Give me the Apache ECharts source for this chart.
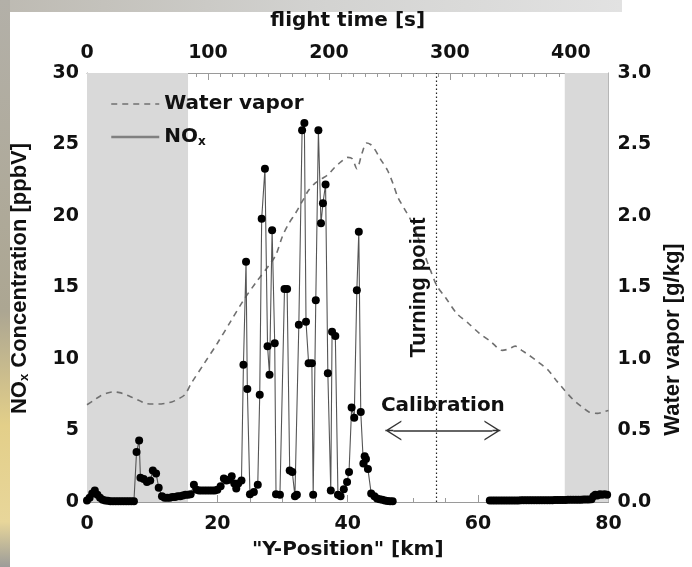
<!DOCTYPE html>
<html><head><meta charset="utf-8">
<script src="https://cdn.jsdelivr.net/npm/echarts@6/dist/echarts.min.js"></script>
<style>html,body{margin:0;padding:0;background:#fff}#c{width:692px;height:567px}</style>
</head><body><div id="c"></div>
<script>
// ---- data ----
const noxKmOut = [0.0,0.4,0.8,1.2,1.6,2.0,2.4,2.8,3.2,3.6,4.0,4.4,4.8,5.2,5.6,6.0,6.4,6.8,7.2,7.6,8.0,8.2,8.7,9.2,9.7,10.1,10.6,11.0,11.5,11.9,12.3,12.7,13.1,13.5,13.9,14.3,14.7,15.1,15.5,15.9,16.4,16.8,17.2,17.6,18.0,18.4,18.8,19.2,19.6,20.0,20.5,21.0,21.4,21.8,22.2,22.6,22.9,23.2,23.7,24.0,24.4,24.6,25.0,25.6,26.2,26.5,26.8,27.3,27.7,28.0,28.4,28.8,29.0,29.6,30.3,30.7,31.1,31.5,31.9,32.2,32.5,33.0,33.35,33.6,34.0,34.5,34.7,35.1,35.5,35.9,36.2,36.6,36.95,37.4,37.6,38.1,38.5,38.9,39.4,39.9,40.2,40.6,41.0,41.4,41.7,42.0,42.4,42.6,42.8,43.1,43.6,44.1,44.5,44.9,45.3,45.7,46.1,46.5,46.9];
const noxValOut = [0.1,0.3,0.6,0.8,0.5,0.3,0.15,0.1,0.08,0.06,0.05,0.05,0.05,0.05,0.05,0.05,0.05,0.05,0.05,3.5,4.3,1.7,1.6,1.4,1.5,2.2,2.0,1.0,0.4,0.3,0.3,0.3,0.35,0.35,0.4,0.4,0.45,0.5,0.5,0.55,1.2,0.85,0.8,0.8,0.8,0.8,0.8,0.8,0.8,0.85,1.1,1.65,1.5,1.55,1.8,1.3,0.95,1.3,1.5,9.6,16.8,7.9,0.55,0.7,1.2,7.5,19.8,23.3,10.9,8.9,19.0,11.1,0.55,0.5,14.9,14.9,2.2,2.1,0.4,0.5,12.4,26.0,26.5,12.6,9.7,9.7,0.5,14.1,26.0,19.5,20.9,22.2,9.0,0.8,11.9,11.6,0.5,0.4,0.9,1.4,2.1,6.6,5.9,14.8,18.9,6.3,2.7,3.2,3.0,2.3,0.6,0.4,0.25,0.2,0.15,0.1,0.07,0.05,0.05];
const noxKmBack = [61.8,62.2,62.6,63.0,63.4,63.8,64.2,64.6,65.0,65.4,65.8,66.2,66.6,67.0,67.4,67.8,68.2,68.6,69.0,69.4,69.8,70.2,70.6,71.0,71.4,71.8,72.2,72.6,73.0,73.4,73.8,74.2,74.6,75.0,75.4,75.8,76.2,76.6,77.0,77.4,77.7,78.0,78.3,78.7,79.0,79.4,79.8];
const noxValBack = [0.1,0.1,0.1,0.1,0.1,0.1,0.1,0.11,0.11,0.11,0.11,0.11,0.12,0.12,0.12,0.12,0.12,0.12,0.12,0.13,0.13,0.13,0.13,0.13,0.13,0.14,0.14,0.14,0.14,0.14,0.15,0.15,0.15,0.15,0.16,0.16,0.17,0.17,0.18,0.2,0.4,0.5,0.45,0.55,0.5,0.55,0.5];
const wvKm  = [0,1,2,3,4,5,6,7,8,9,10,11,12,13,14,15,16,18,20,22,24,26,28,29,30,31,32,33,34,35,36,37,38,39,40,40.7,41.4,42.2,42.9,43.5,44.1,45,46.1,47,47.7,48.7,49.7,50.7,51.7,52.7,53.7,55,56.7,58.5,60.2,62,63.7,64.7,65.7,66.7,67.7,69.2,70.8,72,73.3,74.5,75.8,77,78.3,79.2,80];
const wvVal = [0.68,0.71,0.74,0.76,0.77,0.765,0.75,0.73,0.71,0.69,0.685,0.685,0.69,0.70,0.72,0.75,0.83,0.97,1.11,1.26,1.41,1.54,1.66,1.73,1.86,1.95,2.02,2.10,2.18,2.23,2.26,2.29,2.34,2.38,2.41,2.40,2.33,2.44,2.51,2.50,2.47,2.40,2.32,2.22,2.13,2.05,1.97,1.86,1.74,1.62,1.51,1.43,1.32,1.25,1.18,1.12,1.06,1.07,1.09,1.06,1.03,0.98,0.92,0.85,0.78,0.72,0.67,0.63,0.62,0.63,0.64];
const shadedKm = [[0, 15.5], [73.3, 80]];
const turningKm = 53.6;
const calibKm = [47, 62.2];
const calibLevel = 5;

// ---- chart ----
const H = 'DejaVu Sans';
const V = 'Liberation Sans';
const noxData = noxKmOut.map((k,i)=>[k,noxValOut[i]])
  .concat([[54,'-']])
  .concat(noxKmBack.map((k,i)=>[k,noxValBack[i]]));
const wvData = wvKm.map((k,i)=>[k,wvVal[i]]);
const axisGray = '#9a9a9a';
const tickLab = {color:'#111', fontSize:19, fontWeight:'bold', fontFamily:H};
const chevron = 'path://M0,16L10,0L20,16L18.4,16L10,2.6L1.6,16Z M9.3,0L10.7,0L10.7,8L9.3,8Z';

const chart = echarts.init(document.getElementById('c'), null, {renderer:'canvas'});
chart.setOption({
  animation:false,
  backgroundColor:'#fff',
  textStyle:{fontFamily:H},
  graphic:[
    {type:'rect', z:-10, shape:{x:0,y:0,width:622,height:12},
     style:{fill:new echarts.graphic.LinearGradient(0,0,1,0,[{offset:0,color:'#bdbab2'},{offset:0.5,color:'#d2d2d0'},{offset:1,color:'#e2e2e2'}])}},
    {type:'rect', z:-10, shape:{x:0,y:0,width:10,height:567},
     style:{fill:new echarts.graphic.LinearGradient(0,0,0,1,[{offset:0,color:'#b3b0a8'},{offset:0.55,color:'#aca692'},{offset:0.75,color:'#e3cf89'},{offset:0.92,color:'#e8d69a'},{offset:1,color:'#9c9c99'}])}}
  ],
  grid:{left:87, right:74, top:73, bottom:65, show:false},
  legend:{
    orient:'vertical', left:105, top:89, itemWidth:48, itemHeight:14, itemGap:13,
    itemStyle:{opacity:0},
    data:[
      {name:'Water vapor', lineStyle:{color:'#707070', width:1.6, type:[6,5]}},
      {name:'NOx', lineStyle:{color:'#808080', width:2.5, type:'solid'}}
    ],
    formatter: n => n==='NOx' ? '{n|NO}{s|x}' : '{n|'+n+'}',
    textStyle:{fontFamily:H, fontWeight:'bold', fontSize:20, color:'#111',
      rich:{n:{fontFamily:H, fontWeight:'bold', fontSize:20, color:'#111'},
            s:{fontFamily:H, fontWeight:'bold', fontSize:12, color:'#111', verticalAlign:'bottom', padding:[10,0,0,0]}}}
  },
  xAxis:[
    {type:'value', position:'bottom', min:0, max:80, interval:20,
     axisLine:{show:true, onZero:false, lineStyle:{color:axisGray, width:1}},
     axisTick:{inside:true, length:7, lineStyle:{color:axisGray}},
     minorTick:{show:true, splitNumber:4, length:4, lineStyle:{color:axisGray}},
     splitLine:{show:false},
     axisLabel:Object.assign({margin:13}, tickLab),
     name:'"Y-Position" [km]', nameLocation:'middle', nameGap:38,
     nameTextStyle:{fontFamily:H, fontWeight:'bold', fontSize:20, color:'#111'}},
    {type:'value', position:'top', min:0, max:431, interval:100,
     axisLine:{show:true, onZero:false, lineStyle:{color:axisGray, width:1}},
     axisTick:{inside:true, length:7, lineStyle:{color:axisGray}},
     minorTick:{show:true, splitNumber:10, length:4, lineStyle:{color:axisGray}},
     splitLine:{show:false},
     axisLabel:Object.assign({margin:10, showMaxLabel:false}, tickLab),
     name:'flight time [s]', nameLocation:'middle', nameGap:42,
     nameTextStyle:{fontFamily:H, fontWeight:'bold', fontSize:20, color:'#111'}}
  ],
  yAxis:[
    {type:'value', position:'left', min:0, max:30, interval:5,
     axisLine:{show:true, onZero:false, lineStyle:{color:axisGray, width:1}},
     axisTick:{inside:true, length:7, lineStyle:{color:axisGray}},
     minorTick:{show:true, splitNumber:5, length:4, lineStyle:{color:axisGray}},
     splitLine:{show:false},
     axisLabel:Object.assign({margin:8}, tickLab),
     name:'{n|NO}{s|x}{n| Concentration [ppbV]}', nameLocation:'middle', nameGap:56, nameRotate:90,
     nameTextStyle:{padding:[0,0,0,18], rich:{
       n:{fontFamily:V, fontWeight:'bold', fontSize:22, color:'#111'},
       s:{fontFamily:V, fontWeight:'bold', fontSize:13, color:'#111', verticalAlign:'bottom', padding:[10,0,0,0]}}}},
    {type:'value', position:'right', min:0, max:3, interval:0.5,
     axisLine:{show:true, onZero:false, lineStyle:{color:axisGray, width:1}},
     axisTick:{inside:true, length:7, lineStyle:{color:axisGray}},
     minorTick:{show:true, splitNumber:5, length:4, lineStyle:{color:axisGray}},
     splitLine:{show:false},
     axisLabel:Object.assign({margin:9, formatter:v=>v.toFixed(1)}, tickLab),
     name:'Water vapor [g/kg]', nameLocation:'middle', nameGap:50, nameRotate:90,
     nameTextStyle:{fontFamily:V, fontWeight:'bold', fontSize:22, color:'#111', padding:[0,104,0,0]}}
  ],
  series:[
    {name:'Water vapor', type:'line', xAxisIndex:0, yAxisIndex:1, data:wvData,
     symbol:'none', smooth:0.3, z:3,
     lineStyle:{color:'#707070', width:1.6, type:[6,5]},
     markArea:{silent:true, itemStyle:{color:'#d9d9d9'},
       data: shadedKm.map(r=>[{xAxis:r[0]},{xAxis:r[1]}])}},
    {name:'NOx', type:'line', xAxisIndex:0, yAxisIndex:0, data:noxData,
     symbol:'circle', symbolSize:8, showAllSymbol:true, connectNulls:false, z:4,
     lineStyle:{color:'#555', width:1.1},
     itemStyle:{color:'#000'},
     markLine:{silent:true, symbol:['none','none'], animation:false,
       data:[
         {xAxis:turningKm, lineStyle:{color:'#222', width:1.2, type:[1.5,2.5]},
          label:{show:true, formatter:'Turning point', position:'insideMiddleTop', distance:6,
                 fontFamily:V, fontWeight:'bold', fontSize:22, color:'#111'}},
         [{coord:[calibKm[0],calibLevel], symbol:chevron, symbolSize:[20,16],
           lineStyle:{color:'#333', width:1.5, type:'solid'},
           label:{show:true, formatter:'Calibration', position:'middle', distance:15,
                  fontFamily:H, fontWeight:'bold', fontSize:20, color:'#111'}},
          {coord:[calibKm[1],calibLevel], symbol:chevron, symbolSize:[20,16]}]
       ]}}
  ]
});
</script></body></html>
